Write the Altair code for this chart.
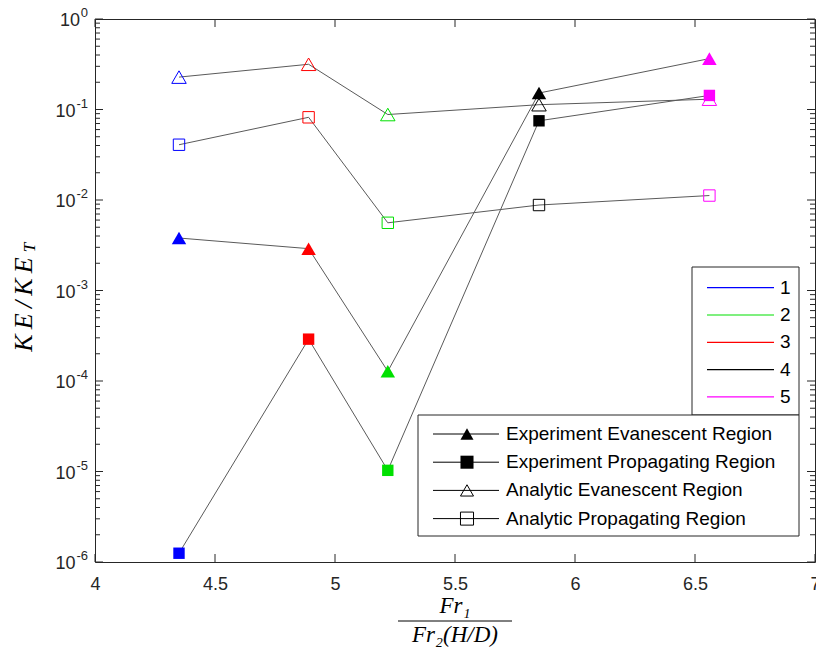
import altair as alt
import pandas as pd

# ---------------- data ----------------
x_vals = [4.35, 4.89, 5.22, 5.85, 6.56]
case_ids = ["1", "3", "2", "4", "5"]
exp_evanescent = [3.8e-3, 2.9e-3, 1.28e-4, 0.152, 0.365]
exp_propagating = [1.25e-6, 2.9e-4, 1.03e-5, 0.075, 0.143]
ana_evanescent = [0.228, 0.316, 0.088, 0.113, 0.130]
ana_propagating = [0.0408, 0.082, 0.0056, 0.0088, 0.0112]

series_names = ["Experiment Evanescent Region", "Experiment Propagating Region",
                "Analytic Evanescent Region", "Analytic Propagating Region"]
series_values = [exp_evanescent, exp_propagating, ana_evanescent, ana_propagating]
series_shapes = ["triangle-up", "square", "triangle-up", "square"]
series_filled = [True, True, False, False]

legend_ids = ["1", "2", "3", "4", "5"]
legend_colors = ["#0000ff", "#00e000", "#ff0000", "#000000", "#ff00ff"]

x_ticks = [4, 4.5, 5, 5.5, 6, 6.5, 7]
y_major = [1e-6, 1e-5, 1e-4, 1e-3, 1e-2, 1e-1, 1]
y_exponents = ["-6", "-5", "-4", "-3", "-2", "-1", "0"]
y_minor = [k * 10.0 ** e for e in range(-6, 0) for k in range(2, 10)]

# ---------------- layout ----------------
W, H = 720, 543
AX = "#262626"
SANS = "Liberation Sans"
SERIF = "Liberation Serif"

rows = []
for name, vals in zip(series_names, series_values):
    for x, c, v in zip(x_vals, case_ids, vals):
        rows.append({"x": x, "y": v, "series": name, "case": c})
df = pd.DataFrame(rows)

xscale = alt.Scale(domain=[4, 7], nice=False, zero=False)
yscale = alt.Scale(type="log", domain=[1e-6, 1], nice=False)
cscale = alt.Scale(domain=legend_ids, range=legend_colors)

xaxis = alt.Axis(values=x_ticks, format="~g", title=None, ticks=False, tickSize=0, domain=False,
                 grid=False, labelPadding=13, labelFlush=False)
yaxis = alt.Axis(values=y_major, labels=False, title=None, ticks=False, tickSize=0,
                 domain=False, grid=False)


def X(f):
    return alt.X(f, scale=xscale, axis=xaxis)


def Y(f):
    return alt.Y(f, scale=yscale, axis=yaxis)


base = alt.Chart(df)
layers = []
layers.append(base.mark_line(color="#5a5a5a", strokeWidth=1).encode(
    x=X("x:Q"), y=Y("y:Q"), detail="series:N"))

for name, shp, filled in zip(series_names, series_shapes, series_filled):
    size = 210 if shp == "triangle-up" else 130
    layers.append(base.transform_filter(alt.datum.series == name).mark_point(
        shape=shp, filled=filled, size=size, strokeWidth=1, opacity=1).encode(
        x=X("x:Q"), y=Y("y:Q"), color=alt.Color("case:N", scale=cscale, legend=None)))

# inside ticks
xt = alt.Chart(pd.DataFrame({"t": x_ticks}))
layers.append(xt.mark_rule(color=AX, strokeWidth=1).encode(x=X("t:Q"), y=alt.value(H), y2=alt.value(H - 8)))
layers.append(xt.mark_rule(color=AX, strokeWidth=1).encode(x=X("t:Q"), y=alt.value(0), y2=alt.value(8)))
ymj = alt.Chart(pd.DataFrame({"t": y_major}))
ymn = alt.Chart(pd.DataFrame({"t": y_minor}))
for ch, L in ((ymj, 8), (ymn, 5)):
    layers.append(ch.mark_rule(color=AX, strokeWidth=1).encode(y=Y("t:Q"), x=alt.value(0), x2=alt.value(L)))
    layers.append(ch.mark_rule(color=AX, strokeWidth=1).encode(y=Y("t:Q"), x=alt.value(W), x2=alt.value(W - L)))

# y tick labels: "10" with raised exponent
ylab = alt.Chart(pd.DataFrame({"t": y_major, "e": y_exponents})).transform_calculate(
    lx="datum.e == '0' ? -15 : -19.5")
layers.append(ylab.mark_text(align="right", baseline="middle", font=SANS, fontSize=18, color=AX, dy=2).encode(
    y=Y("t:Q"), x=alt.X("lx:Q", scale=None, axis=None), text=alt.value("10")))
layers.append(ylab.mark_text(align="right", baseline="middle", font=SANS, fontSize=13, color=AX, dy=-6).encode(
    y=Y("t:Q"), x=alt.value(-7), text="e:N"))

# ---------------- legends ----------------
R = W - 16
T1 = H - 295
T2 = H - 147
B2 = H - 26
L1 = R - 107
L2 = R - 381

box = alt.Chart(pd.DataFrame({"k": [0]}))
layers.append(box.mark_rect(fill="white", stroke=AX, strokeWidth=1).encode(
    x=alt.value(L1), x2=alt.value(R), y=alt.value(T1), y2=alt.value(T2)))
leg1 = alt.Chart(pd.DataFrame({"case": legend_ids, "i": list(range(5))})).transform_calculate(
    ly="%f + 20.7 + datum.i * 27.3" % T1)
layers.append(leg1.mark_rule(strokeWidth=1.2).encode(
    x=alt.value(R - 92), x2=alt.value(R - 25), y=alt.Y("ly:Q", scale=None, axis=None),
    color=alt.Color("case:N", scale=cscale, legend=None)))
layers.append(leg1.mark_text(align="left", baseline="middle", font=SANS, fontSize=19, color="#000").encode(
    x=alt.value(R - 19), y=alt.Y("ly:Q", scale=None, axis=None), text="case:N"))

layers.append(box.mark_rect(fill="white", stroke=AX, strokeWidth=1).encode(
    x=alt.value(L2), x2=alt.value(R), y=alt.value(T2), y2=alt.value(B2)))
leg2 = alt.Chart(pd.DataFrame({"label": series_names, "shape": series_shapes,
                               "filled": series_filled, "i": list(range(4))})).transform_calculate(
    ly="%f + 19 + datum.i * 28.2" % T2)
layers.append(leg2.mark_rule(color="#000", strokeWidth=1).encode(
    x=alt.value(L2 + 15), x2=alt.value(L2 + 81), y=alt.Y("ly:Q", scale=None, axis=None)))
for flag in (True, False):
    layers.append(leg2.transform_filter(alt.datum.filled == flag).mark_point(
        filled=flag, color="#000", strokeWidth=1, size=170, opacity=1).encode(
        x=alt.value(L2 + 49), y=alt.Y("ly:Q", scale=None, axis=None),
        shape=alt.Shape("shape:N", scale=None)))
layers.append(leg2.mark_text(align="left", baseline="middle", font=SANS, fontSize=19, color="#000").encode(
    x=alt.value(L2 + 88), y=alt.Y("ly:Q", scale=None, axis=None), text="label:N"))

# ---------------- axis titles ----------------
def txt(s, **kw):
    return alt.Chart(pd.DataFrame({"s": [s]})).mark_text(**kw)

layers.append(txt("Fr\u2081", font=SERIF, fontStyle="italic", fontSize=23, baseline="middle",
                  align="center", color="#000").encode(x=alt.value(W / 2), y=alt.value(H + 44), text="s:N"))
layers.append(box.mark_rule(color="#000", strokeWidth=1).encode(
    x=alt.value(W / 2 - 57), x2=alt.value(W / 2 + 57), y=alt.value(H + 59)))
layers.append(txt("Fr\u2082(H/D)", font=SERIF, fontStyle="italic", fontSize=23, baseline="middle",
                  align="center", color="#000").encode(x=alt.value(W / 2), y=alt.value(H + 73), text="s:N"))

YC = H / 2 + 14
layers.append(txt("K\u2009E\u2009/\u2009K\u2009E", font=SERIF, fontStyle="italic", fontSize=26,
                  baseline="middle", align="center", angle=270, color="#000").encode(
    x=alt.value(-71), y=alt.value(YC), text="s:N"))
layers.append(txt("T", font=SERIF, fontStyle="italic", fontSize=17, baseline="middle",
                  align="center", angle=270, color="#000").encode(
    x=alt.value(-65), y=alt.value(YC - 57), text="s:N"))

chart = alt.layer(*layers).properties(
    width=W, height=H, autosize="none",
    padding={"left": 87, "top": 11, "right": 1, "bottom": 86},
    background="white",
).configure_view(stroke=AX, strokeWidth=1).configure_axis(
    labelFont=SANS, labelFontSize=18, labelColor=AX)

chart.save("out.html", embed_options={"renderer": "svg", "actions": False})
